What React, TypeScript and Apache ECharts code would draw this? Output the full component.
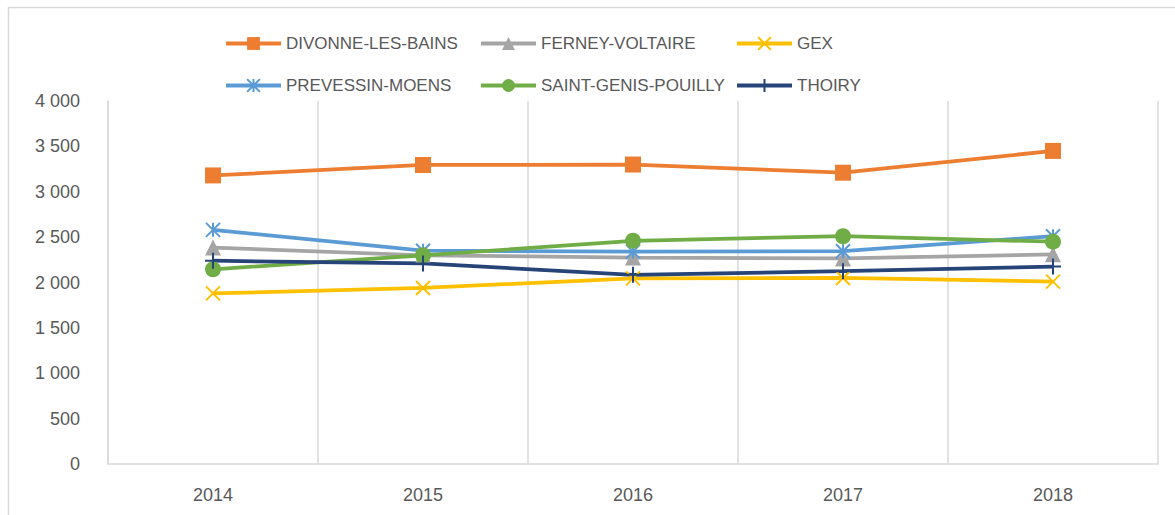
import React, { useEffect, useRef } from "react";
import * as echarts from "echarts";

const years = ["2014", "2015", "2016", "2017", "2018"];
const divonne = [3180, 3295, 3300, 3210, 3450];
const ferney = [2385, 2300, 2275, 2265, 2310];
const gex = [1880, 1940, 2045, 2050, 2010];
const prevessin = [2580, 2350, 2340, 2345, 2510];
const saintGenis = [2145, 2300, 2460, 2510, 2450];
const thoiry = [2240, 2210, 2085, 2125, 2175];

const FONT = "'Liberation Sans', Arial, sans-serif";
const TXT = "#595959";

const X_PATH = "path://M0,0L10,10M10,0L0,10";
const STAR_PATH = "path://M5,0L5,10M0,0L10,10M10,0L0,10";
const PLUS_PATH = "path://M5,0L5,10M0,5L10,5";

type S = { name: string; data: number[]; color: string; symbol: string; size: number; stroke?: boolean };

const seriesDefs: S[] = [
  { name: "DIVONNE-LES-BAINS", data: divonne, color: "#ED7D31", symbol: "rect", size: 16 },
  { name: "FERNEY-VOLTAIRE", data: ferney, color: "#A5A5A5", symbol: "triangle", size: 16 },
  { name: "GEX", data: gex, color: "#FFC000", symbol: X_PATH, size: 14, stroke: true },
  { name: "PREVESSIN-MOENS", data: prevessin, color: "#5B9BD5", symbol: STAR_PATH, size: 14, stroke: true },
  { name: "SAINT-GENIS-POUILLY", data: saintGenis, color: "#70AD47", symbol: "circle", size: 16 },
  { name: "THOIRY", data: thoiry, color: "#264478", symbol: PLUS_PATH, size: 16, stroke: true },
];

const legendPos = [
  [224, 35],
  [479, 35],
  [735, 35],
  [224, 77],
  [479, 77],
  [735, 77],
];

export default function App() {
  const ref = useRef<HTMLDivElement>(null);
  useEffect(() => {
    if (!ref.current) return;
    const chart = echarts.init(ref.current, null, { renderer: "svg" });
    chart.setOption({
      animation: false,
      backgroundColor: "#ffffff",
      graphic: [
        {
          type: "rect",
          shape: { x: 8.5, y: 7.5, width: 1300, height: 700 },
          style: { fill: "none", stroke: "#D9D9D9", lineWidth: 1.5 },
          silent: true,
        },
      ],
      legend: seriesDefs.map((s, i) => ({
        data: [s.name],
        left: legendPos[i][0],
        top: legendPos[i][1],
        itemWidth: 55,
        itemHeight: 16,
        itemGap: 5,
        padding: 0,
        lineStyle: { width: 4 },
        textStyle: { fontFamily: FONT, fontSize: 17, color: TXT },
      })),
      grid: { left: 108, right: 17, top: 101, bottom: 51, containLabel: false },
      xAxis: {
        type: "category",
        data: years,
        boundaryGap: true,
        axisLine: { show: true, lineStyle: { color: "#D9D9D9", width: 1.5 } },
        axisTick: { show: false },
        splitLine: { show: true, lineStyle: { color: "#D9D9D9", width: 1.5 } },
        axisLabel: { fontFamily: FONT, fontSize: 18, color: TXT, margin: 22 },
      },
      yAxis: {
        type: "value",
        min: 0,
        max: 4000,
        interval: 500,
        axisLine: { show: true, lineStyle: { color: "#D9D9D9", width: 1.5 } },
        axisTick: { show: false },
        splitLine: { show: false },
        axisLabel: {
          fontFamily: FONT,
          fontSize: 18,
          color: TXT,
          margin: 28,
          formatter: (v: number) => String(v).replace(/\B(?=(\d{3})+(?!\d))/g, " "),
        },
      },
      series: seriesDefs.map((s) => ({
        name: s.name,
        type: "line",
        data: s.data,
        symbol: s.symbol,
        symbolSize: s.size,
        showSymbol: true,
        lineStyle: { color: s.color, width: 3.75 },
        itemStyle: s.stroke
          ? { color: s.color, borderColor: s.color, borderWidth: 2 }
          : { color: s.color, borderWidth: 0 },
        emphasis: { disabled: true },
      })),
    });
    return () => chart.dispose();
  }, []);
  return (
    <div
      ref={ref}
      style={{ position: "fixed", left: 0, top: 0, width: 1175, height: 515 }}
    />
  );
}
